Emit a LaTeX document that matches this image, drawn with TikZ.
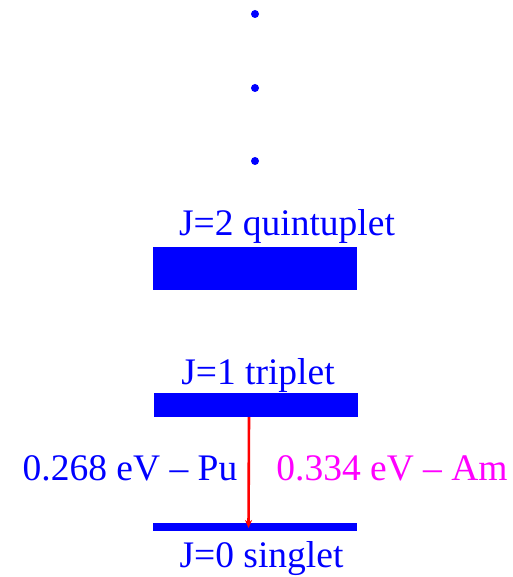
\documentclass[tikz,border=0pt]{standalone}
\usepackage{fontspec}
\setmainfont{Liberation Serif}
\usetikzlibrary{arrows.meta,calc}
\definecolor{lvBlue}{RGB}{0,0,255}
\definecolor{lvMagenta}{RGB}{255,0,255}
\definecolor{lvRed}{RGB}{255,0,0}
\tikzset{
  level/.style={fill=lvBlue,inner sep=0pt,minimum width=204pt},
  lvtext/.style={anchor=base,inner sep=0pt,text=lvBlue,font=\fontsize{37.5}{42}\selectfont},
  lvdot/.style={circle,fill=lvBlue,inner sep=0pt,minimum size=8pt},
}
\begin{document}
\begin{tikzpicture}[x=1pt,y=-1pt]
  \useasboundingbox (0,0) rectangle (512,577);
  % dots for the higher levels
  \foreach \yy/\nm in {14/dotA,88/dotB,161/dotC}
    \node[lvdot] (\nm) at (255,\yy) {};
  % levels
  \node[level,minimum height=43pt] (quint) at (255,268.5) {};
  \node[level,minimum height=24pt] (trip) at (255.5,405) {};
  \node[level,minimum height=8pt] (sing) at (255,527) {};
  \node[lvtext] (quintlab) at (287,235) {J=2 quintuplet};
  \node[lvtext] (triplab) at (258,384) {J=1 triplet};
  \node[lvtext] (singlab) at (261.5,567) {J=0 singlet};
  % transition
  \draw[lvRed,line width=2.6pt,-{Stealth[length=8pt,width=7pt]}]
    ([xshift=-6.5pt]trip.south) -- ([xshift=-6.5pt,yshift=-1pt]sing.center);
  \node[lvtext] (pulab) at (130,480) {0.268 eV -- Pu};
  \node[lvtext,text=lvMagenta] (amlab) at (392,480) {0.334 eV -- Am};
\end{tikzpicture}
\end{document}
